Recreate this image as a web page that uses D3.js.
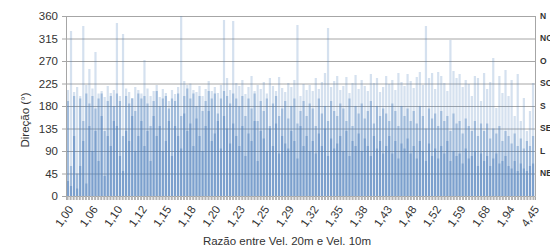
<!DOCTYPE html>
<meta charset="utf-8">
<html>
<head>
<title>Direção x Razão</title>
<script src="https://d3js.org/d3.v7.min.js"></script>
</head>
<style>
  body {margin: 0; font-family: "Liberation Sans", Arial, sans-serif; background: #fff;}
  .axis text {font: 11.5px "Liberation Sans", Arial, sans-serif; fill: #333;}
  .label {font: 11.5px "Liberation Sans", Arial, sans-serif; fill: #333;}
  .dir {font: bold 8.5px "Liberation Sans", Arial, sans-serif; fill: #333;}
</style>
<body>
<svg id="chart" width="550" height="249"></svg>
<script>
// razão entre velocidades (rótulos mostrados a cada 8 categorias)
var tickLabels = ["1,00","1,06","1,10","1,12","1,15","1,18","1,20","1,23","1,25","1,29",
                  "1,32","1,35","1,38","1,43","1,48","1,52","1,59","1,68","1,94","4,45"];
var dirLabels = ["NE","L","SE","S","SO","O","NO","N"];
var dirValues = [45, 90, 135, 180, 225, 270, 315, 360];

// direção máxima (série clara)
var serieA = [212,330,208,218,200,340,222,254, 215,288,205,210,198,220,206,212,
              346,200,324,215,208,196,218,212, 205,272,215,200,210,222,198,214,
              206,190,212,204,218,360,230,222, 225,212,208,220,200,214,230,210,
              218,206,222,352,236,212,350,226, 220,232,204,218,240,210,222,214,
              228,205,236,220,210,238,216,208, 226,218,232,342,200,224,212,222,
              210,236,214,228,246,336,218,230, 240,212,220,238,206,226,242,214,
              232,220,210,244,226,236,208,218, 240,224,232,212,246,228,220,244,
              230,216,238,248,222,340,236,246, 214,248,240,226,210,312,250,236,
              244,218,232,224,200,240,236,190, 246,214,228,276,176,240,206,252,
              200,232,160,244,150,196,130,170, 226];
// direção média
var serieB = [190,60,200,45,195,150,205,185, 200,175,195,205,130,190,200,180,
              205,190,120,200,185,195,170,205, 195,200,185,140,190,210,180,195,
              200,175,195,190,205,160,200,215, 195,205,180,200,170,190,210,195,
              205,165,195,210,200,185,205,195, 180,200,160,195,175,205,150,190,
              170,195,140,185,200,160,175,190, 155,180,195,145,170,190,160,185,
              175,140,195,165,180,150,190,170, 160,185,175,150,195,140,180,165,
              185,155,170,190,145,180,160,175, 165,150,185,170,140,180,160,175,
              150,170,145,180,160,135,175,155, 165,140,170,150,160,130,165,145,
              150,125,155,140,130,150,120,145, 130,145,115,135,125,140,110,130,
              120,105,125,100,115,95,110,100, 120];
// direção mínima (série escura)
var serieC = [30,20,120,15,60,110,25,140, 90,130,70,160,40,120,100,150,
              140,80,50,130,110,160,90,120, 150,100,130,70,160,120,140,90,
              110,150,80,140,120,95,165,130, 145,100,155,120,90,140,170,110,
              125,150,95,160,135,105,145,120, 100,140,80,125,110,150,70,130,
              115,90,135,100,145,85,120,105, 95,130,110,75,140,100,120,90,
              110,85,125,100,135,80,115,95, 105,120,90,130,80,110,100,125,
              90,115,100,80,120,95,110,85, 100,120,85,110,75,105,95,115,
              85,100,75,110,90,70,105,80, 95,75,100,85,110,70,90,80,
              85,65,95,75,80,90,60,85, 70,80,60,75,85,65,70,80,
              60,55,70,50,65,55,50,60, 65];

var svg = d3.select("#chart"),
    margin = {top: 16, right: 15, bottom: 53, left: 66},
    width = +svg.attr("width") - margin.left - margin.right,
    height = +svg.attr("height") - margin.top - margin.bottom;

var cats = d3.range(serieA.length);

var x = d3.scaleBand().domain(cats).range([0, width]).padding(0.28),
    xt = d3.scaleBand().domain(cats).range([0, width]),
    y = d3.scaleLinear().domain([0, 360]).range([height, 0]);

var g = svg.append("g")
    .attr("transform", "translate(" + margin.left + "," + margin.top + ")");

// grade
g.append("g")
    .selectAll("line")
    .data(d3.range(0, 361, 45))
    .enter().append("line")
    .attr("x1", 0).attr("x2", width)
    .attr("y1", function(d) { return y(d) + 0.5; })
    .attr("y2", function(d) { return y(d) + 0.5; })
    .attr("stroke", "#a6a6a6");

// barras
var series = [
  {values: serieA, opacity: 0.24},
  {values: serieB, opacity: 0.4},
  {values: serieC, opacity: 0.45}
];
series.forEach(function(s) {
  g.append("g")
    .selectAll("rect")
    .data(s.values)
    .enter().append("rect")
    .attr("x", function(d, i) { return x(i); })
    .attr("width", x.bandwidth())
    .attr("y", function(d) { return y(d); })
    .attr("height", function(d) { return height - y(d); })
    .attr("fill", "#4f81bd")
    .attr("fill-opacity", s.opacity);
});

// eixo y
var yAxis = g.append("g")
    .attr("class", "axis")
    .call(d3.axisLeft(y).tickValues(d3.range(0, 361, 45)).tickSize(4).tickPadding(4));
yAxis.select(".domain").attr("stroke", "#a6a6a6");
yAxis.selectAll(".tick line").attr("stroke", "#a6a6a6");

// borda direita
g.append("line")
    .attr("x1", width + 0.5).attr("x2", width + 0.5)
    .attr("y1", 0).attr("y2", height)
    .attr("stroke", "#a6a6a6");

// eixo x (marcas por categoria)
var xAxis = g.append("g")
    .attr("class", "axis")
    .attr("transform", "translate(0," + height + ")")
    .call(d3.axisBottom(xt).tickSize(4).tickFormat(function(d) {
      return d % 8 === 0 ? tickLabels[d / 8] : "";
    }));
xAxis.select(".domain").attr("stroke", "#a6a6a6");
xAxis.selectAll(".tick line").attr("stroke", "#b4b4b4").attr("stroke-width", 2);
xAxis.selectAll(".tick text")
    .attr("text-anchor", "end")
    .attr("y", 0)
    .attr("dy", "0.35em")
    .attr("transform", "translate(3,11) rotate(-55)");

// direções no eixo secundário
g.append("g")
    .selectAll("text")
    .data(dirLabels)
    .enter().append("text")
    .attr("class", "dir")
    .attr("x", width + 5)
    .attr("y", function(d, i) { return y(dirValues[i]); })
    .attr("dy", "0.35em")
    .text(function(d) { return d; });

// títulos
svg.append("text")
    .attr("class", "label")
    .attr("transform", "translate(29,120) rotate(-90)")
    .attr("text-anchor", "middle")
    .text("Direção (°)");

svg.append("text")
    .attr("class", "label")
    .attr("x", 287)
    .attr("y", 245)
    .attr("text-anchor", "middle")
    .text("Razão entre Vel. 20m e Vel. 10m");
</script>
</body>
</html>
